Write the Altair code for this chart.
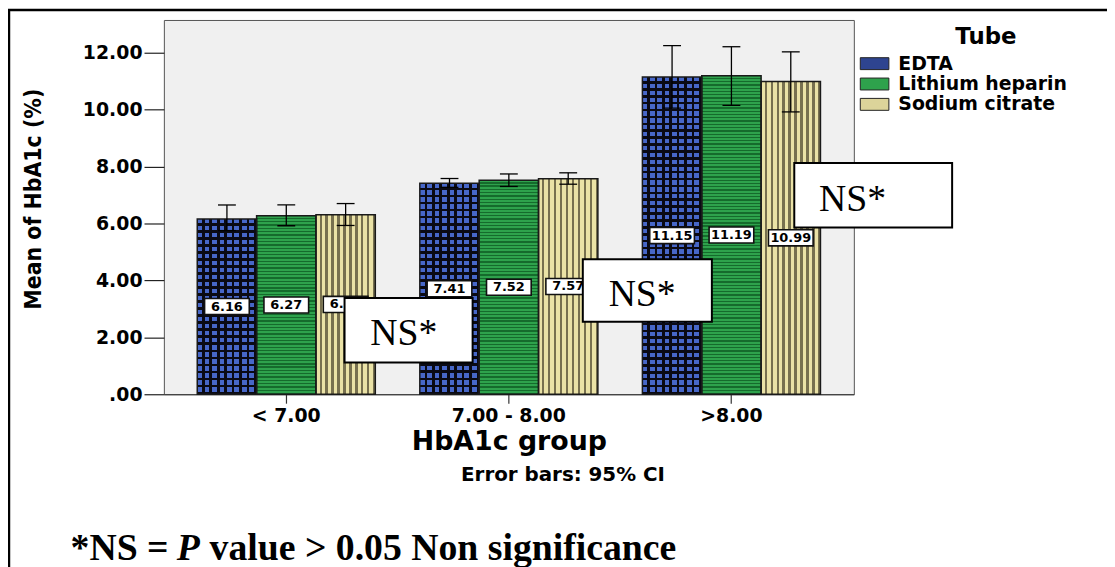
import altair as alt
import pandas as pd

# ---------------- data ----------------
groups = ["< 7.00", "7.00 - 8.00", ">8.00"]
tubes = ["EDTA", "Lithium heparin", "Sodium citrate"]

edta_mean = [6.16, 7.41, 11.15]
lith_mean = [6.27, 7.52, 11.19]
citr_mean = [6.31, 7.57, 10.99]

edta_lo = [5.75, 7.27, 10.05]
edta_hi = [6.65, 7.58, 12.25]
lith_lo = [5.92, 7.30, 10.15]
lith_hi = [6.65, 7.74, 12.21]
citr_lo = [5.93, 7.38, 9.92]
citr_hi = [6.70, 7.78, 12.03]

y_ticks = [0, 2, 4, 6, 8, 10, 12]

rows = []
for t, means, los, his in zip(
    tubes,
    [edta_mean, lith_mean, citr_mean],
    [edta_lo, lith_lo, citr_lo],
    [edta_hi, lith_hi, citr_hi],
):
    for g, m, lo, hi in zip(groups, means, los, his):
        rows.append({"group": g, "tube": t, "mean": m, "lo": lo, "hi": hi})
df = pd.DataFrame(rows)
one = pd.DataFrame({"k": [0]})

# ---------------- style ----------------
W, H = 695, 377
YMAX = 13.15
PX_PER_UNIT = H / YMAX

BLUE = "#4767C8"
BLACK = "#0A0A14"
GREEN = "#2EA24C"
DGREEN = "#156B2C"
KHAKI = "#EAE2A6"
DKHAKI = "#77704F"
CLEAR = "rgba(0,0,0,0)"


def stripes(n, ca, cb, frac_a, rows_dir):
    stops = []
    for i in range(n):
        s = i / n
        m = (i + frac_a) / n
        e = (i + 1) / n
        stops += [(s, ca), (m, ca), (m, cb), (e, cb)]
    stops = [{"offset": round(min(o, 1.0), 5), "color": c} for o, c in stops]
    if rows_dir:
        return {"gradient": "linear", "x1": 0, "y1": 0, "x2": 0, "y2": 1, "stops": stops}
    return {"gradient": "linear", "x1": 0, "y1": 0, "x2": 1, "y2": 0, "stops": stops}


x_enc = alt.X(
    "group:N",
    sort=groups,
    scale=alt.Scale(domain=groups, paddingInner=0.2, paddingOuter=0.15),
    title="HbA1c group",
    axis=alt.Axis(
        labelAngle=0, domain=True, domainColor="#333333", domainWidth=1.2,
        ticks=True, tickSize=9, tickColor="#333333", tickWidth=1.2,
        labelFont="DejaVu Sans", labelFontWeight="bold", labelFontSize=19,
        labelColor="black", labelPadding=3,
        titleFont="DejaVu Sans", titleFontSize=27, titleFontWeight="bold",
        titleColor="black", titleY=56, titleBaseline="alphabetic",
    ),
)
xo_enc = alt.XOffset("tube:N", sort=tubes,
                     scale=alt.Scale(domain=tubes, paddingInner=0, paddingOuter=0))
y_scale = alt.Scale(domain=[0, YMAX], nice=False, zero=True)
y_axis = alt.Axis(
    values=y_ticks,
    labelExpr="datum.value == 0 ? '.00' : format(datum.value, '.2f')",
    domain=False, grid=False, ticks=True, tickSize=20, tickColor="#222222",
    tickWidth=1.2, labelFont="DejaVu Sans", labelFontWeight="bold",
    labelFontSize=19, labelColor="black", labelPadding=2,
    titleFont="Liberation Sans Narrow, DejaVu Sans Condensed, Liberation Sans",
    titleFontSize=23, titleFontWeight="bold", titleColor="black",
    titleAngle=270, titleX=-131, titleY=180, titleAlign="center",
    titleBaseline="middle",
)
TITLE_Y = "Mean of HbA1c (%)"


def y_enc(field):
    return alt.Y(f"{field}:Q", scale=y_scale, axis=y_axis, title=TITLE_Y)


layers = []

# base bars (also carry the legend)
base = alt.Chart(df).mark_bar(opacity=1).encode(
    x=x_enc,
    xOffset=xo_enc,
    y=y_enc("mean"),
    color=alt.Color(
        "tube:N",
        scale=alt.Scale(domain=tubes, range=["#2E4490", GREEN, "#DCD49A"]),
        legend=alt.Legend(
            orient="none", legendX=706.4, legendY=34.5, title=None,
            symbolType="M-2.4,-1H2.4V1H-2.4Z", symbolSize=144,
            symbolStrokeColor="#222222", symbolStrokeWidth=1, symbolOpacity=1,
            labelFont="DejaVu Sans", labelFontWeight="bold", labelFontSize=19,
            labelColor="black", labelOffset=14.4, rowPadding=0.5, padding=0,
            labelLimit=400,
        ),
    ),
)
layers.append(base)


def bar_layer(filt, fill):
    return alt.Chart(df).transform_filter(filt).mark_bar(fill=fill, opacity=1).encode(
        x=x_enc, xOffset=xo_enc, y=y_enc("mean"),
    )


# EDTA: blue / black columns with black rows -> checker-like
layers.append(bar_layer(alt.datum.tube == "EDTA", stripes(8, BLUE, BLACK, 0.64, False)))
for g, m in zip(groups, edta_mean):
    n = max(1, round(m * PX_PER_UNIT / 7.0))
    layers.append(bar_layer((alt.datum.tube == "EDTA") & (alt.datum.group == g),
                            stripes(n, CLEAR, BLACK, 0.62, True)))
# Lithium heparin: horizontal green stripes
for g, m in zip(groups, lith_mean):
    n = max(1, round(m * PX_PER_UNIT / 3.3))
    layers.append(bar_layer((alt.datum.tube == "Lithium heparin") & (alt.datum.group == g),
                            stripes(n, GREEN, DGREEN, 0.6, True)))
# Sodium citrate: vertical khaki stripes
layers.append(bar_layer(alt.datum.tube == "Sodium citrate", stripes(10, KHAKI, DKHAKI, 0.6, False)))

# outlines
layers.append(alt.Chart(df).mark_bar(fillOpacity=0, stroke="#1a1a1a", strokeWidth=1.5).encode(
    x=x_enc, xOffset=xo_enc, y=y_enc("mean")))

# error bars
layers.append(alt.Chart(df).mark_rule(color="black", strokeWidth=1.3).encode(
    x=x_enc, xOffset=xo_enc, y=y_enc("lo"), y2="hi:Q"))
for fld in ["lo", "hi"]:
    layers.append(alt.Chart(df).mark_tick(color="black", size=18, thickness=1.3,
                                          orient="horizontal", opacity=1).encode(
        x=x_enc, xOffset=xo_enc, y=y_enc(fld)))

# value label boxes at half bar height
lab = alt.Chart(df).transform_calculate(mid="datum.mean / 2")
layers.append(lab.mark_point(shape="M-1,-0.36H1V0.36H-1Z", size=2025, filled=True,
                             fill="white", stroke="#111111", strokeWidth=1.6,
                             opacity=1).encode(
    x=x_enc, xOffset=xo_enc, y=y_enc("mid")))
layers.append(lab.mark_text(font="DejaVu Sans", fontWeight="bold", fontSize=13,
                            color="black", baseline="middle", align="center").encode(
    x=x_enc, xOffset=xo_enc, y=y_enc("mid"),
    text=alt.Text("mean:Q", format=".2f")))

# NS* annotation boxes (pixel positions in plot coordinates)
ns_boxes = [
    (182, 311, 280, 345, 208, 327),
    (422, 552, 241, 304, 448, 288),
    (635, 794, 144, 209, 660, 192),
]
for x1, x2, y1, y2, tx, ty in ns_boxes:
    layers.append(alt.Chart(one).mark_rect(fill="white", stroke="black", strokeWidth=2).encode(
        x=alt.value(x1), x2=alt.value(x2), y=alt.value(y1), y2=alt.value(y2)))
    layers.append(alt.Chart(one).mark_text(text="NS*", font="Liberation Serif", fontSize=38,
                                           align="left", baseline="alphabetic",
                                           color="black").encode(
        x=alt.value(tx), y=alt.value(ty)))

# other texts
layers.append(alt.Chart(one).mark_text(text="Error bars: 95% CI", font="DejaVu Sans",
                                       fontWeight="bold", fontSize=20, align="center",
                                       baseline="alphabetic", color="black").encode(
    x=alt.value(402), y=alt.value(464)))
layers.append(alt.Chart(one).mark_text(text="Tube", font="DejaVu Sans", fontWeight="bold",
                                       fontSize=23, align="center", baseline="alphabetic",
                                       color="black").encode(
    x=alt.value(828), y=alt.value(24)))

foot = [("*NS =", "normal", -94), ("P", "italic", 13), ("value > 0.05 Non significance", "normal", 46)]
for txt, style, fx in foot:
    layers.append(alt.Chart(one).mark_text(text=txt, font="Liberation Serif", fontWeight="bold",
                                           fontStyle=style, fontSize=38, align="left",
                                           baseline="alphabetic", color="black").encode(
        x=alt.value(fx), y=alt.value(544)))

# outer frame
layers.append(alt.Chart(one).mark_rect(fillOpacity=0, stroke="black", strokeWidth=2.5).encode(
    x=alt.value(-156), x2=alt.value(1000), y=alt.value(-10), y2=alt.value(700)))

chart = alt.layer(*layers).properties(
    width=W, height=H,
    padding={"left": 157, "top": 10, "right": 255, "bottom": 180},
    autosize=alt.AutoSizeParams(type="none"),
    background="white",
).configure_view(
    fill="#F0F0F0", stroke="#555555", strokeWidth=1
)

chart.save("out.html", embed_options={"renderer": "svg", "actions": False})
